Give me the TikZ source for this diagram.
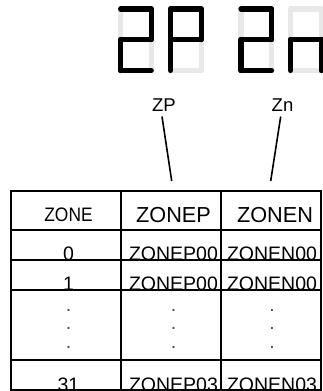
\documentclass[tikz,border=0pt]{standalone}
\usepackage{fontspec}
\setmainfont{Liberation Sans}
\definecolor{segoff}{gray}{0.91}

\begin{document}
\begin{tikzpicture}[x=1pt, y=-1pt,
  seg/.style={line width=5.3pt, line cap=round},
  rule/.style={line width=2pt},
  tag/.style={anchor=base, font=\fontsize{18.5}{21}\selectfont},
  head/.style={anchor=base, inner sep=0pt, font=\fontsize{21.7}{24}\selectfont},
  cell/.style={anchor=base, inner sep=0pt, font=\fontsize{19.5}{22}\selectfont}]
\useasboundingbox (0,0) rectangle (323,391);
% seven-segment display
\foreach \L/\on in {120.7/{tl/tr,tr/mr,ml/mr,ml/bl,bl/br},
                    170.7/{tl/tr,tr/mr,ml/mr,tl/ml,ml/bl},
                    241/{tl/tr,tr/mr,ml/mr,ml/bl,bl/br},
                    290.7/{ml/mr,mr/br,ml/bl}} {
    \coordinate (tl) at (\L,9);    \coordinate (tr) at (\L+30.5,9);
    \coordinate (ml) at (\L,39.5); \coordinate (mr) at (\L+30.5,39.5);
    \coordinate (bl) at (\L,70.5); \coordinate (br) at (\L+30.5,70.5);
    \foreach \p/\q in {tl/tr,tr/mr,mr/br,bl/br,ml/bl,tl/ml,ml/mr}
        \draw[seg, segoff] (\p) -- (\q);
    \foreach \p/\q in \on
        \draw[seg, black] (\p) -- (\q);
}
\node[tag] (zp) at (164,111) {ZP};
\node[tag] (zn) at (282.5,111) {Zn};
\coordinate (zpend) at (171.7,181);
\coordinate (znend) at (270.7,181);
\draw[line width=1.6pt, shorten <=2pt] ([xshift=-2.3pt]zp.south) -- (zpend);
\draw[line width=1.6pt, shorten <=2pt] ([xshift=-1.5pt]zn.south) -- (znend);
% table
\draw[rule] (11,190.7) rectangle (321,390);
\foreach \y in {230,259.5,290,360}
    \draw[rule] (11,\y) -- (321,\y);
\foreach \x in {121,221}
    \draw[rule] (\x,190.7) -- (\x,390);
\node[cell] (hzone) at (68.5,221) {\scalebox{0.89}[1]{ZONE}};
\node[head] (hzonep) at (173.5,222.5) {ZONEP};
\node[head] (hzonen) at (275,222.5) {ZONEN};
\foreach \y/\z/\p/\n in {260/0/ZONEP00/ZONEN00, 290.5/1/ZONEP00/ZONEN00, 391/31/ZONEP03/ZONEN03} {
    \node[cell] (zone\z) at (68.5,\y) {\z};
    \node[cell] (zonep\z) at (173.5,\y) {\p};
    \node[cell] (zonen\z) at (272,\y) {\n};
}
\foreach \x/\c in {68.5/a,173.5/b,272/c}
    \foreach \y/\r in {311/1,329/2,348/3}
        \node[cell, text=black!70] (dot\c\r) at (\x,\y) {.};
\end{tikzpicture}
\end{document}
